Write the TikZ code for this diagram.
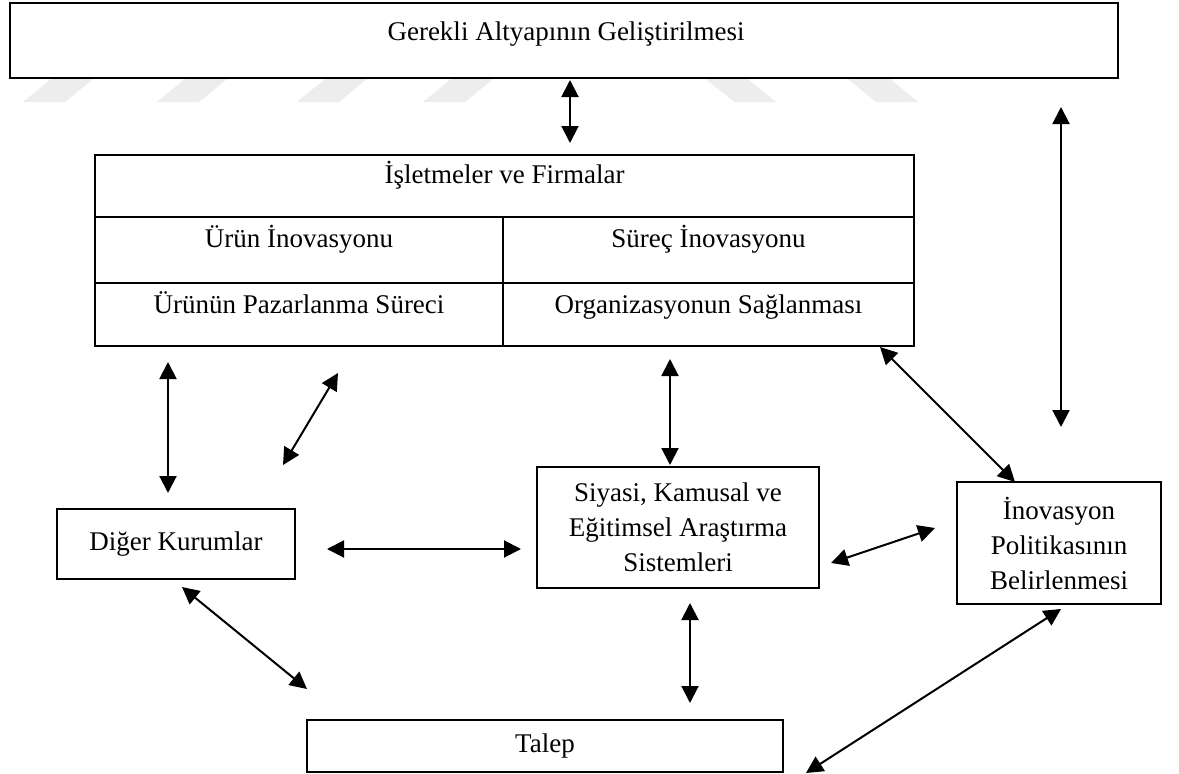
\documentclass[tikz,border=0pt]{standalone}
\usepackage{fontspec}
\setmainfont{Liberation Serif}
\usetikzlibrary{arrows.meta}
\begin{document}
\begin{tikzpicture}[x=1pt,y=-1pt,
  box/.style={draw=black, line width=1.6pt, fill=white, rectangle, inner sep=0pt,
              align=center, font=\fontsize{27}{35}\selectfont},
  txt/.style={inner sep=0pt, anchor=base, font=\fontsize{27}{35}\selectfont},
  biarrow/.style={line width=2pt,
     {Triangle[length=17pt,width=17pt]}-{Triangle[length=17pt,width=17pt]}},
  wmark/.style={fill=black!7, draw=none}]
\useasboundingbox (0,0) rectangle (1179,774);

% faint background stripes
\fill[wmark] (23,102) -- (65,102) -- (93,79) -- (51,79) -- cycle;
\fill[wmark] (157,102) -- (199,102) -- (227,79) -- (185,79) -- cycle;
\fill[wmark] (297,102) -- (339,102) -- (367,79) -- (325,79) -- cycle;
\fill[wmark] (423,102) -- (465,102) -- (493,79) -- (451,79) -- cycle;
\fill[wmark] (706,79) -- (748,79) -- (776,102) -- (734,102) -- cycle;
\fill[wmark] (848,79) -- (890,79) -- (918,102) -- (876,102) -- cycle;

% boxes
\node[box, minimum width=1108pt, minimum height=75pt]  (infra) at (564,40.5) {};
\node[txt] (infraT) at (566,40) {Gerekli Altyapının Geliştirilmesi};

\node[box, minimum width=819pt, minimum height=191pt] (firms) at (504.5,250.5) {};
\draw[line width=1.6pt] (95,217) -- (914,217);
\draw[line width=1.6pt] (95,283) -- (914,283);
\draw[line width=1.6pt] (503,217) -- (503,346);
\node[txt] (firmsT) at (504.5,183) {İşletmeler ve Firmalar};
\node[txt] (urun)   at (299,247) {Ürün İnovasyonu};
\node[txt] (surec)  at (708.5,247) {Süreç İnovasyonu};
\node[txt] (pazar)  at (299,313) {Ürünün Pazarlanma Süreci};
\node[txt] (organ)  at (708.5,313) {Organizasyonun Sağlanması};

\node[box, minimum width=238pt, minimum height=70pt]  (diger) at (176,544) {Diğer Kurumlar};
\node[box, minimum width=282pt, minimum height=121pt] (siyasi) at (678,527.5)
  {Siyasi, Kamusal ve\\Eğitimsel Araştırma\\Sistemleri};
\node[box, minimum width=204pt, minimum height=122pt] (inov) at (1059,543)
  {İnovasyon\\Politikasının\\Belirlenmesi};
\node[box, minimum width=476pt, minimum height=52pt]  (talep) at (545,746) {Talep};

% arrow ends
\coordinate (a1) at (570,80);   \coordinate (b1) at (570,143);
\coordinate (a2) at (1061,107); \coordinate (b2) at (1061,427);
\coordinate (a3) at (168,362);  \coordinate (b3) at (168,493);
\coordinate (a4) at (338,373);  \coordinate (b4) at (283,465);
\coordinate (a5) at (670,359);  \coordinate (b5) at (670,465);
\coordinate (a6) at (880,347);  \coordinate (b6) at (1015,482);
\coordinate (a7) at (327,549);  \coordinate (b7) at (521,549);
\coordinate (a8) at (831,563);  \coordinate (b8) at (935,528);
\coordinate (a9) at (182,587);  \coordinate (b9) at (307,689);
\coordinate (a10) at (690,603); \coordinate (b10) at (690,703);
\coordinate (a11) at (1061,609);\coordinate (b11) at (806,773);

% two-way arrows
\foreach \i in {1,...,11} \draw[biarrow] (a\i) -- (b\i);
\end{tikzpicture}
\end{document}
